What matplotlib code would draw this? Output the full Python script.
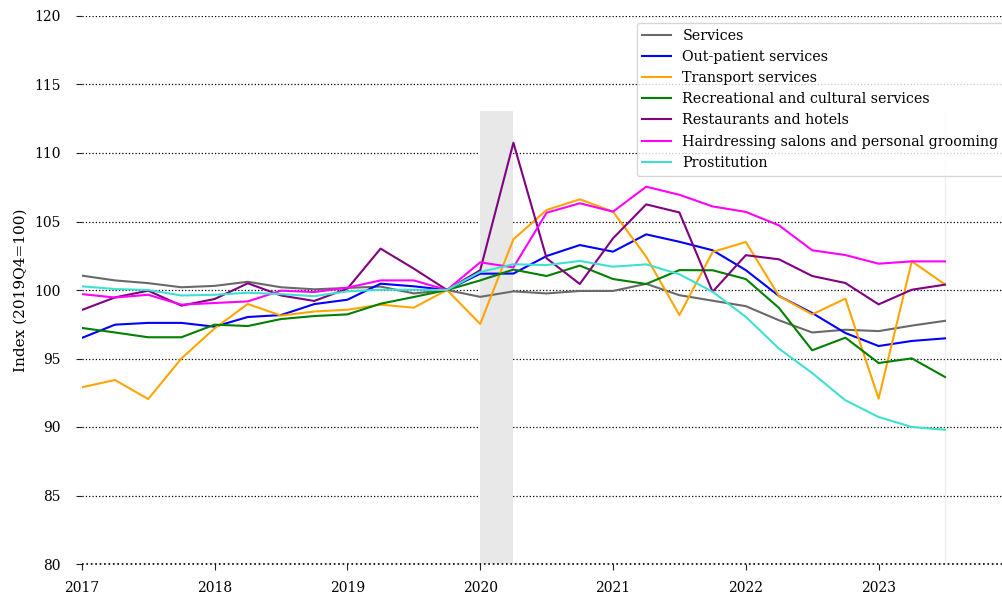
import matplotlib
matplotlib.use('Agg')
import matplotlib.pyplot as plt
import numpy as np

plt.rcParams['font.family'] = 'serif'

# quarterly index values, 2017Q1 .. 2023Q3 (2019Q4 = 100)
quarters = np.arange(2017, 2023.51, 0.25)

services = [101.05, 100.7, 100.5, 100.2, 100.3, 100.6, 100.2, 100.05, 100.15, 100.25,
            99.75, 100.0, 99.5, 99.9, 99.75, 99.93, 99.93, 100.45, 99.62, 99.22,
            98.82, 97.79, 96.9, 97.1, 97.0, 97.4, 97.75]
outpatient = [96.5, 97.47, 97.6, 97.6, 97.32, 98.03, 98.17, 98.97, 99.29, 100.46,
              100.27, 100.0, 101.19, 101.2, 102.48, 103.28, 102.8, 104.06, 103.52, 102.9,
              101.45, 99.56, 98.32, 96.86, 95.91, 96.28, 96.47]
transport = [92.9, 93.43, 92.04, 95.0, 97.2, 98.98, 98.13, 98.43, 98.56, 98.93,
             98.71, 100.0, 97.52, 103.7, 105.84, 106.62, 105.72, 102.43, 98.17, 102.78,
             103.5, 99.56, 98.22, 99.37, 92.07, 102.09, 100.41]
recreational = [97.23, 96.9, 96.55, 96.55, 97.47, 97.37, 97.88, 98.1, 98.22, 99.0,
                99.49, 100.0, 100.7, 101.49, 101.02, 101.78, 100.8, 100.44, 101.45, 101.44,
                100.8, 98.69, 95.6, 96.52, 94.67, 95.01, 93.65]
restaurants = [98.54, 99.46, 99.95, 98.86, 99.34, 100.49, 99.6, 99.2, 100.1, 103.02,
               101.56, 100.0, 101.44, 110.75, 102.31, 100.44, 103.77, 106.25, 105.66, 99.87,
               102.54, 102.24, 101.02, 100.51, 98.95, 100.02, 100.39]
hairdressing = [99.7, 99.45, 99.65, 98.93, 99.05, 99.17, 99.95, 99.85, 100.17, 100.7,
                100.7, 100.0, 102.02, 101.65, 105.64, 106.33, 105.72, 107.54, 106.95, 106.1,
                105.7, 104.72, 102.9, 102.55, 101.92, 102.09, 102.09]
prostitution = [100.27, 100.07, 100.0, 99.6, 99.65, 99.8, 99.7, 99.55, 99.9, 100.02,
                100.02, 100.0, 101.31, 101.88, 101.82, 102.12, 101.7, 101.87, 101.15, 99.87,
                98.04, 95.72, 93.94, 91.95, 90.73, 90.0, 89.8]

series = [
    ('Services', services, 'dimgray'),
    ('Out-patient services', outpatient, 'blue'),
    ('Transport services', transport, 'orange'),
    ('Recreational and cultural services', recreational, 'green'),
    ('Restaurants and hotels', restaurants, 'purple'),
    ('Hairdressing salons and personal grooming', hairdressing, 'magenta'),
    ('Prostitution', prostitution, 'turquoise'),
]

# shaded lockdown quarter and marker at latest quarter
shade_start, shade_end, shade_top = 2020.0, 2020.25, 113.1
marker_x = 2023.5

fig = plt.figure(figsize=(10.02, 6.01), dpi=100)
# axes run past the right edge of the figure (cropped chart)
ax = fig.add_axes([81.8 / 1002, 37 / 601, 929.6 / 1002, 548 / 601])

ax.fill_between([shade_start, shade_end], 80, shade_top, color='#e8e8e8', lw=0, zorder=1)
ax.vlines(marker_x, 80, shade_top, color='#eeeeee', lw=1, zorder=1)

for name, vals, col in series:
    ax.plot(quarters, vals, color=col, lw=1.5, label=name, zorder=3)

ax.set_xlim(2017, 2024)
ax.set_ylim(80, 120)
ax.set_xticks(range(2017, 2024))
ax.set_yticks(range(80, 121, 5))
ax.grid(axis='y', linestyle=':', color='black', lw=0.9, zorder=0)
ax.set_axisbelow(True)
for s in ax.spines.values():
    s.set_visible(False)
# bottom line at 80, not clipped by the axes edge
ax.axhline(80, linestyle=':', color='black', lw=1.2, clip_on=False, zorder=2)
ax.tick_params(axis='both', labelsize=10, color='#222222', length=4.5)
ax.tick_params(axis='x', pad=8)
ax.tick_params(axis='y', pad=10.5)
ax.set_ylabel('Index (2019Q4=100)', fontsize=11, labelpad=5)

ax.legend(loc='upper right', fontsize=10.3)

fig.savefig('out.png', dpi=100)
